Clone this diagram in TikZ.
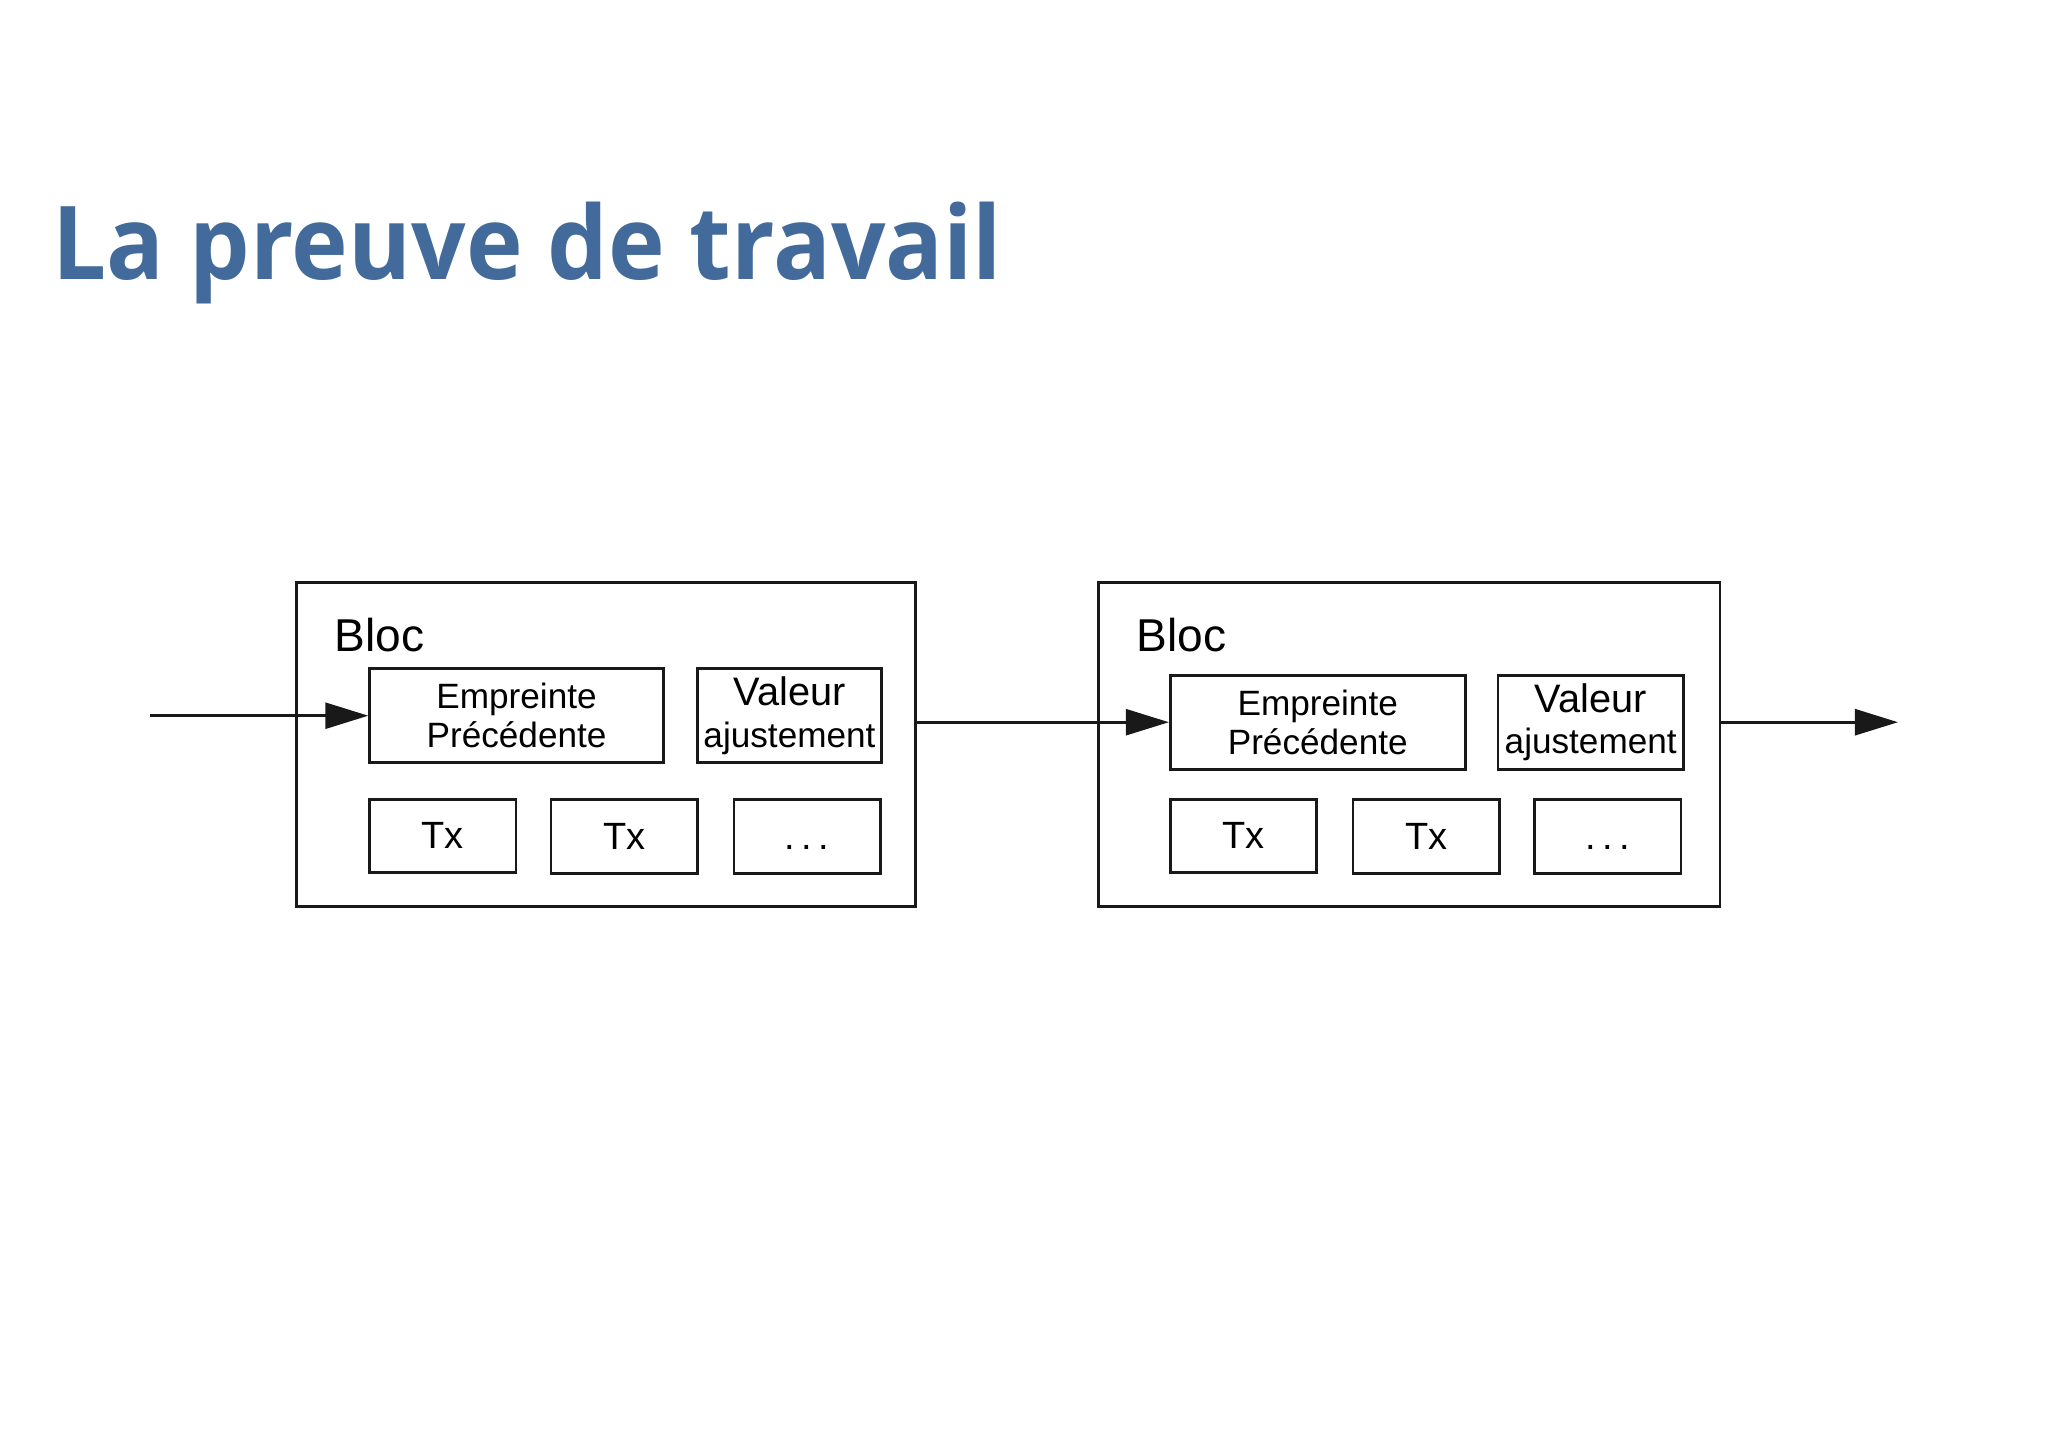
\documentclass[tikz,border=0pt]{standalone}
\usepackage{fontspec}
\setmainfont{Liberation Sans}
\newfontfamily\titlefont{Open Sans}[FakeStretch=0.94]
\usetikzlibrary{arrows.meta}
\definecolor{titleblue}{RGB}{66,106,154}
\definecolor{linegray}{RGB}{25,25,25}
\tikzset{
  box/.style 2 args={draw=linegray, line width=0.75pt, inner sep=0pt,
    minimum width=#1*0.01cm, minimum height=#2*0.01cm},
  arr/.style={draw=linegray, line width=0.75pt, -{Triangle[length=0.43cm,width=0.26cm]}},
  fE/.style={font=\fontsize{10pt}{11.1pt}\selectfont, align=center},
  fV/.style={align=center},
  fT/.style={font=\fontsize{10.8pt}{12pt}\selectfont},
  fB/.style={font=\fontsize{13.1pt}{15pt}\selectfont, anchor=west, inner sep=0pt}
}
\newcommand{\valtext}{{\fontsize{11.3pt}{12pt}\selectfont Valeur}\\[-0.3pt]{\fontsize{10pt}{12pt}\selectfont ajustement}}
\newcommand{\dotstext}{\vphantom{Tx}.\kern1.8pt.\kern1.8pt.}
\begin{document}
\begin{tikzpicture}[x=0.01cm,y=-0.01cm]
\useasboundingbox[fill=white] (0,0) rectangle (2048,1448);
\node[anchor=base west, inner sep=0pt, text=titleblue, font=\titlefont\bfseries\fontsize{29pt}{34pt}\selectfont] (title) at (52,279) {La preuve de travail};
% block 1
\node[box={619}{323.9}] (b1) at (606,744.45) {};
\node[fB] (bloc1) at (334,635) {Bloc};
\node[box={293.9}{94}, fE] (e1) at (516.55,715.7) {Empreinte\\Précédente};
\node[box={184.2}{94}, fV] (v1) at (789.5,715.7) {\valtext};
\node[box={146.3}{73.1}, fT] (t1a) at (442.75,835.85) {Tx};
\node[box={146.3}{74.4}, fT] (t1b) at (624.25,836.5) {Tx};
\node[box={146.3}{74.4}, fT] (t1c) at (807.15,836.5) {\dotstext};
% block 2
\node[box={621.6}{323.9}] (b2) at (1409.2,744.45) {};
\node[fB] (bloc2) at (1136,635) {Bloc};
\node[box={295.1}{94}, fE] (e2) at (1317.75,722.2) {Empreinte\\Précédente};
\node[box={185.4}{94}, fV] (v2) at (1590.7,722.2) {\valtext};
\node[box={146.2}{73.1}, fT] (t2a) at (1243.3,835.85) {Tx};
\node[box={146.3}{74.4}, fT] (t2b) at (1426.15,836.5) {Tx};
\node[box={146.2}{74.4}, fT] (t2c) at (1607.7,836.5) {\dotstext};
% connectors
\coordinate (in) at (150,715.7);
\coordinate (out) at (1898,722.2);
\draw[arr] (in) -- (e1.west);
\draw[arr] (b1.east |- e2.west) -- (e2.west);
\draw[arr] (b2.east |- e2.west) -- (out);
\end{tikzpicture}
\end{document}
